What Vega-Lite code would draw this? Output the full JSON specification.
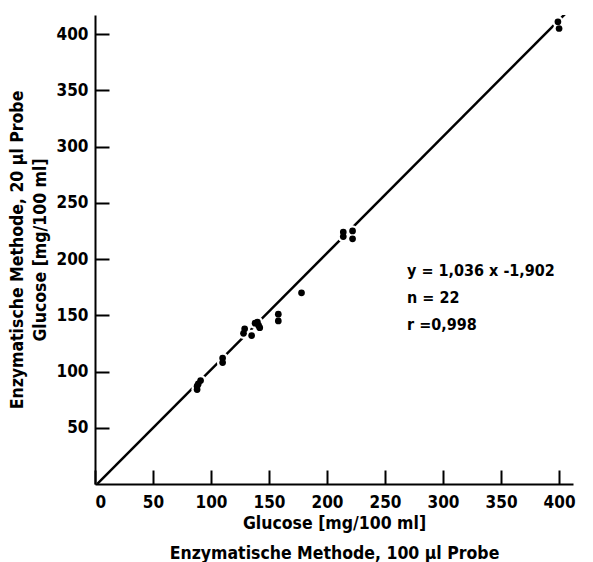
{
  "$schema": "https://vega.github.io/schema/vega-lite/v6.json",
  "width": 478,
  "height": 469,
  "autosize": {"type": "none"},
  "padding": {"left": 95, "top": 15, "right": 20, "bottom": 78},
  "background": "white",
  "config": {
    "view": {"stroke": null},
    "font": "DejaVu Sans Condensed",
    "axis": {
      "grid": false,
      "domainColor": "black",
      "domainWidth": 2,
      "tickColor": "black",
      "tickWidth": 2,
      "tickSize": -14,
      "labelFont": "DejaVu Sans Condensed",
      "labelFontWeight": "bold",
      "labelFontSize": 17,
      "labelColor": "black",
      "titleFont": "DejaVu Sans Condensed",
      "titleFontWeight": "bold",
      "titleFontSize": 17.5,
      "titleColor": "black"
    }
  },
  "datasets": {
    "points": [
      {"x": 88, "y": 84},
      {"x": 88, "y": 87},
      {"x": 91, "y": 92},
      {"x": 110, "y": 108},
      {"x": 110, "y": 112},
      {"x": 128, "y": 134},
      {"x": 129, "y": 138},
      {"x": 135, "y": 132},
      {"x": 138, "y": 143},
      {"x": 140, "y": 144},
      {"x": 142, "y": 139},
      {"x": 141, "y": 141},
      {"x": 158, "y": 145},
      {"x": 158, "y": 151},
      {"x": 178, "y": 170},
      {"x": 214, "y": 220},
      {"x": 214, "y": 224},
      {"x": 222, "y": 218},
      {"x": 222, "y": 225},
      {"x": 399, "y": 411},
      {"x": 400, "y": 405},
      {"x": 89, "y": 89}
    ],
    "fit": [
      {"x": 2, "y": 0.17},
      {"x": 410, "y": 422.9}
    ],
    "notes": [
      {"x": 269, "y": 189, "label": "y = 1,036  x -1,902"},
      {"x": 269, "y": 165, "label": "n = 22"},
      {"x": 269, "y": 141, "label": "r =0,998"}
    ]
  },
  "layer": [
    {
      "data": {"name": "fit"},
      "mark": {"type": "line", "color": "black", "strokeWidth": 2.5, "clip": true},
      "encoding": {
        "x": {
          "field": "x", "type": "quantitative",
          "scale": {"domain": [0, 412], "nice": false},
          "axis": {"values": [0, 50, 100, 150, 200, 250, 300, 350, 400], "labelPadding": 24,
            "title": ["Glucose [mg/100 ml]", "Enzymatische Methode, 100 µl Probe"], "titlePadding": 4, "titleLineHeight": 30}
        },
        "y": {
          "field": "y", "type": "quantitative",
          "scale": {"domain": [0, 417], "nice": false},
          "axis": {"values": [50, 100, 150, 200, 250, 300, 350, 400], "labelPadding": 21,
            "title": ["Enzymatische Methode, 20 µl Probe", "Glucose [mg/100 ml]"], "titlePadding": 7, "titleLineHeight": 23}
        }
      }
    },
    {
      "data": {"name": "points"},
      "mark": {"type": "point", "filled": true, "color": "white", "opacity": 1, "size": 130},
      "encoding": {
        "x": {"field": "x", "type": "quantitative"},
        "y": {"field": "y", "type": "quantitative"}
      }
    },
    {
      "data": {"name": "points"},
      "mark": {"type": "point", "filled": true, "color": "black", "opacity": 1, "size": 45},
      "encoding": {
        "x": {"field": "x", "type": "quantitative"},
        "y": {"field": "y", "type": "quantitative"}
      }
    },
    {
      "data": {"name": "notes"},
      "mark": {"type": "text", "align": "left", "baseline": "middle", "fontSize": 16, "fontWeight": "bold", "font": "DejaVu Sans Condensed", "color": "black"},
      "encoding": {
        "x": {"field": "x", "type": "quantitative"},
        "y": {"field": "y", "type": "quantitative"},
        "text": {"field": "label"}
      }
    }
  ]
}
